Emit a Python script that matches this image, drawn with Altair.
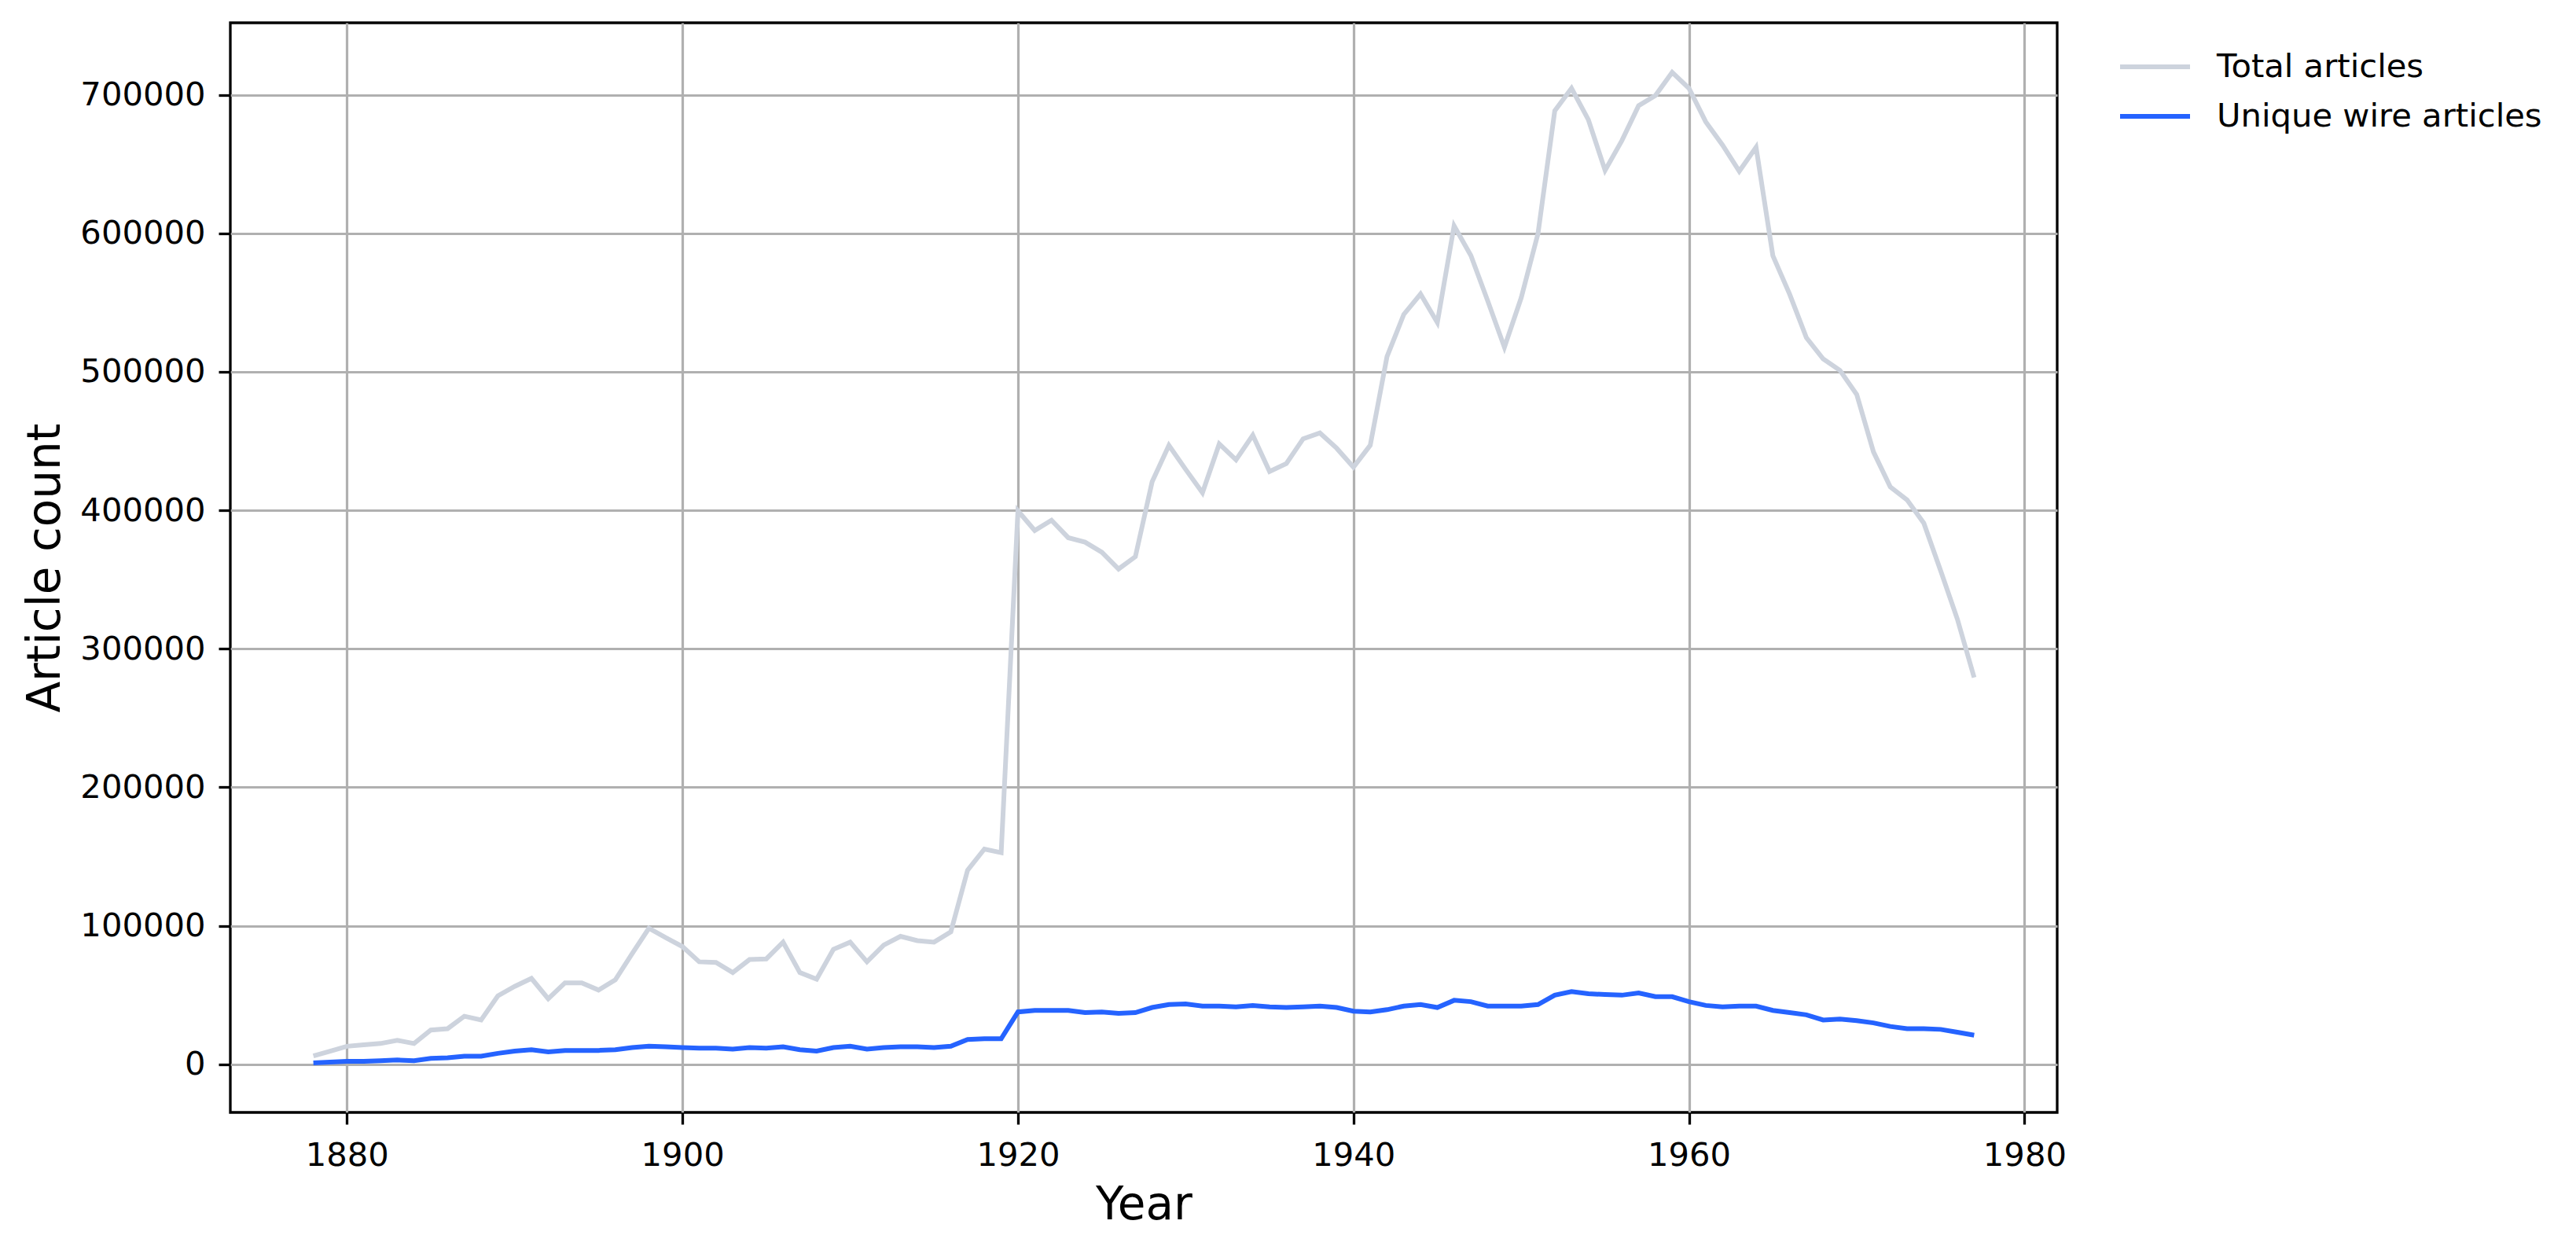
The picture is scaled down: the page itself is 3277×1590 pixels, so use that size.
import altair as alt
import pandas as pd

years = list(range(1878, 1978))

total_articles = [
    6000, 9500, 13000, 14000, 15000, 17300, 15000, 24700, 25700, 34700,
    32000, 49400, 56200, 62000, 47300, 58800, 58800, 53600, 61000, 79800,
    98200, 91400, 85000, 74000, 73500, 66200, 75600, 76100, 88200, 66200,
    61400, 83000, 88200, 74000, 86100, 92400, 89300, 88200, 95600, 140200,
    155400, 152800, 399600, 385400, 392800, 380200, 377000, 369700, 357600, 366500,
    420600, 446900, 429500, 412700, 447900, 436400, 454200, 428000, 433700, 451600,
    455800, 444800, 431100, 446900, 510900, 541400, 556100, 535600, 605400, 583900,
    551300, 517700, 553400, 599700, 688400, 704700, 682100, 645400, 666900, 692100,
    699400, 716200, 704700, 680500, 663700, 644800, 662100, 583900, 556100, 524600,
    509300, 501000, 483600, 442100, 416900, 407500, 390700, 356500, 321400, 279300,
]

unique_wire = [
    1000, 1600, 2100, 2100, 2600, 3100, 2600, 4200, 4700, 5800,
    5800, 7900, 9500, 10500, 8900, 10000, 10000, 10000, 10500, 12100,
    13100, 12600, 12100, 11600, 11600, 11000, 12100, 11600, 12600, 10500,
    9500, 12100, 13100, 11000, 12100, 12600, 12600, 12100, 13100, 17900,
    18400, 18400, 37800, 38900, 38900, 38900, 37300, 37800, 36800, 37300,
    41000, 43100, 43600, 42000, 42000, 41500, 42500, 41500, 41000, 41500,
    42000, 41000, 38300, 37800, 39400, 42000, 43100, 41000, 46200, 45200,
    42000, 42000, 42000, 43100, 49900, 52500, 50900, 50400, 49900, 51500,
    48800, 48800, 45200, 42500, 41500, 42000, 42000, 38900, 37300, 35700,
    32000, 32600, 31500, 29900, 27300, 25700, 25700, 25200, 23100, 21000,
]

series_names = ["Total articles", "Unique wire articles"]
series_colors = ["#cdd3dd", "#2563ff"]

x_ticks = [1880, 1900, 1920, 1940, 1960, 1980]
y_ticks = [0, 100000, 200000, 300000, 400000, 500000, 600000, 700000]

df = pd.DataFrame({
    "Year": years * 2,
    "Count": total_articles + unique_wire,
    "Series": [series_names[0]] * len(years) + [series_names[1]] * len(years),
})

W, H = 2324, 1386
FONT = "DejaVu Sans"

x_scale = alt.Scale(domain=[1873.05, 1981.95], nice=False, zero=False)
y_scale = alt.Scale(domain=[-34760, 751960], nice=False, zero=False)
color_scale = alt.Scale(domain=series_names, range=series_colors)

x_axis = alt.Axis(
    values=x_ticks, format="d", title="Year", grid=True,
    gridColor="#b0b0b0", gridWidth=3.2, domain=False,
    ticks=True, tickSize=15, tickWidth=3.3, tickColor="black",
    labelFont=FONT, labelFontSize=41.7, labelColor="black", labelPadding=19,
    labelFlush=False,
    titleFont=FONT, titleFontSize=58, titleFontWeight="normal", titleColor="black",
    titleX=W / 2, titleY=135, titleBaseline="alphabetic", titleAlign="center",
)
y_axis = alt.Axis(
    values=y_ticks, format="d", title="Article count", grid=True,
    gridColor="#b0b0b0", gridWidth=3.2, domain=False,
    ticks=True, tickSize=15, tickWidth=3.3, tickColor="black",
    labelFont=FONT, labelFontSize=41.7, labelColor="black", labelPadding=17,
    labelFlush=False,
    titleFont=FONT, titleFontSize=58, titleFontWeight="normal", titleColor="black",
    titleX=-218, titleY=H / 2, titleAngle=-90, titleBaseline="alphabetic",
    titleAlign="center",
)

lines = alt.Chart(df).mark_line(strokeWidth=6, clip=True).encode(
    x=alt.X("Year:Q", scale=x_scale, axis=x_axis),
    y=alt.Y("Count:Q", scale=y_scale, axis=y_axis),
    color=alt.Color("Series:N", scale=color_scale, legend=None,
                    sort=series_names),
    order=alt.Order("Year:Q"),
)

legend_layers = []
for i, name in enumerate(series_names):
    ldf = pd.DataFrame({"Series": [name]})
    yy = 56 + 63 * i
    rule = alt.Chart(ldf).mark_rule(strokeWidth=6).encode(
        x=alt.value(2404), x2=alt.value(2493), y=alt.value(yy),
        color=alt.Color("Series:N", scale=color_scale, legend=None),
    )
    txt = alt.Chart(ldf).mark_text(
        align="left", baseline="middle", font=FONT, fontSize=41.7, color="black"
    ).encode(
        x=alt.value(2527), y=alt.value(yy), text="Series:N",
    )
    legend_layers += [rule, txt]

chart = alt.layer(lines, *legend_layers).properties(
    width=W, height=H,
    padding={"left": 285, "top": 21, "right": 652, "bottom": 158},
    autosize=alt.AutoSizeParams(type="none"),
    background="white",
).configure_view(
    stroke="black", strokeWidth=3.3
)

chart.save("out.html", embed_options={"renderer": "svg", "actions": False})
